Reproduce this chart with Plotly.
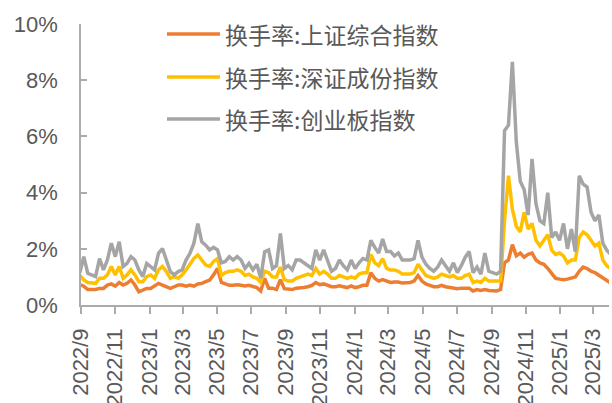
import pandas as pd
import plotly.graph_objects as go

# Weekly samples (Tuesdays) of turnover rate, %, from late Aug 2022 to early Apr 2025
dates = pd.date_range("2022-08-30", periods=136, freq="7D")

series_names = ["换手率:上证综合指数", "换手率:深证成份指数", "换手率:创业板指数"]
series_colors = ["#ED7D31", "#FFC000", "#A5A5A5"]

sse_composite = [
    0.72, 0.67, 0.55, 0.55, 0.55, 0.59, 0.59, 0.71, 0.75, 0.67,
    0.80, 0.71, 0.77, 0.89, 0.71, 0.47, 0.53, 0.59, 0.59, 0.67,
    0.77, 0.71, 0.65, 0.59, 0.65, 0.71, 0.71, 0.67, 0.71, 0.67,
    0.75, 0.77, 0.83, 0.89, 1.07, 1.30, 0.80, 0.75, 0.70, 0.70,
    0.72, 0.70, 0.68, 0.70, 0.65, 0.62, 0.50, 0.95, 0.60, 0.60,
    0.55, 0.90, 0.58, 0.55, 0.55, 0.60, 0.60, 0.62, 0.65, 0.70,
    0.80, 0.72, 0.75, 0.70, 0.65, 0.65, 0.68, 0.65, 0.62, 0.68,
    0.62, 0.65, 0.70, 0.70, 1.15, 0.95, 0.85, 0.90, 0.85, 0.80,
    0.82, 0.82, 0.78, 0.78, 0.80, 0.85, 1.05, 0.85, 0.75, 0.70,
    0.65, 0.65, 0.70, 0.65, 0.62, 0.62, 0.58, 0.60, 0.60, 0.60,
    0.50, 0.55, 0.52, 0.55, 0.52, 0.52, 0.50, 0.55, 1.50, 1.60,
    2.15, 1.75, 1.85, 1.70, 1.80, 1.85, 1.60, 1.50, 1.45, 1.30,
    1.10, 0.95, 0.92, 0.90, 0.92, 0.95, 1.00, 1.20, 1.35, 1.30,
    1.20, 1.15, 1.05, 0.95, 0.85, 0.78,
]

szse_component = [
    1.05, 0.89, 0.80, 0.77, 0.77, 0.95, 0.95, 1.07, 1.37, 1.07,
    1.37, 0.95, 1.07, 1.25, 1.07, 0.83, 0.83, 1.01, 1.07, 0.95,
    1.25, 1.37, 1.19, 0.95, 1.01, 0.95, 1.07, 1.25, 1.48, 1.66,
    1.78, 1.60, 1.42, 1.37, 1.55, 1.65, 1.05, 1.15, 1.20, 1.20,
    1.25, 1.20, 1.05, 1.10, 1.00, 0.95, 0.80, 1.20, 1.15, 1.00,
    1.00, 1.35, 0.90, 0.85, 0.85, 0.95, 1.00, 1.05, 1.10, 1.05,
    1.30, 1.10, 1.20, 1.10, 0.95, 0.95, 1.05, 1.00, 0.95, 1.00,
    0.95, 1.10, 1.15, 1.15, 1.80, 1.50, 1.40, 1.65, 1.30, 1.25,
    1.25, 1.20, 1.10, 1.10, 1.10, 1.15, 1.45, 1.25, 1.05, 1.00,
    0.95, 1.00, 1.10, 1.05, 1.00, 1.05, 0.95, 0.95, 1.05, 1.10,
    0.80, 0.85, 0.80, 0.95, 0.85, 0.85, 0.85, 0.85, 3.00, 4.60,
    3.40, 2.80, 2.60, 3.30, 2.70, 2.90, 2.30, 2.10, 2.30, 2.50,
    1.95, 1.80, 1.85, 1.75, 1.50, 1.60, 1.60, 2.40, 2.60, 2.50,
    2.30, 2.10, 2.20, 1.60, 1.40, 1.30,
]

chinext = [
    1.15, 1.72, 1.13, 1.07, 1.01, 1.65, 1.25, 1.60, 2.20, 1.72,
    2.25, 1.37, 1.48, 1.72, 1.60, 1.25, 1.01, 1.48, 1.37, 1.25,
    1.84, 2.01, 1.60, 1.19, 1.07, 1.19, 1.25, 1.60, 1.84, 2.20,
    2.90, 2.25, 2.13, 1.96, 2.05, 1.96, 1.50, 1.55, 1.72, 1.60,
    1.72, 1.60, 1.30, 1.48, 1.25, 1.45, 0.95, 1.90, 1.96, 1.30,
    1.40, 2.55, 1.30, 1.40, 1.25, 1.60, 1.60, 1.50, 1.40, 1.30,
    1.96, 1.60, 1.96, 1.60, 1.20, 1.30, 1.60, 1.40, 1.25, 1.60,
    1.30, 1.50, 1.65, 1.60, 2.30, 2.05, 1.85, 2.35, 1.90, 1.90,
    1.75, 1.85, 1.60, 1.60, 1.60, 1.65, 2.30, 1.70, 1.45, 1.30,
    1.20, 1.35, 1.60, 1.40, 1.20, 1.50, 1.15, 1.40, 1.70, 1.90,
    1.15, 1.35, 1.10, 1.85, 1.20, 1.15, 1.10, 1.20, 6.20, 6.40,
    8.65, 5.80, 4.40, 4.10, 3.20, 5.20, 3.60, 3.00, 2.90, 4.00,
    2.40, 2.60, 2.30, 2.90, 2.00, 2.70, 1.90, 4.60, 4.30, 4.20,
    3.30, 3.00, 3.20, 2.20, 1.95, 1.80,
]

y_ticks = [0, 2, 4, 6, 8, 10]
y_tick_text = [f"{v}%" for v in y_ticks]

W, H = 612, 403
M_L, M_R, M_T, M_B = 81, 3, 24, 98
AXIS_GREY = "#ABABAB"
TEXT_GREY = "#595959"
LATIN = "Liberation Sans, Arial, sans-serif"
CJK = "Noto Sans CJK SC, Liberation Sans, sans-serif"

fig = go.Figure()
for name, color, values in zip(series_names, series_colors,
                               [sse_composite, szse_component, chinext]):
    fig.add_trace(go.Scatter(
        x=dates, y=values, name=name, mode="lines",
        line=dict(color=color, width=3.5),
        showlegend=False,
    ))

# Legend drawn in pixel space: a short line swatch followed by the label
plot_w = W - M_L - M_R
plot_h = H - M_T - M_B


def px_x(p):
    return (p - M_L) / plot_w


def px_y(p):
    return (H - M_B - p) / plot_h


legend_rows = [34, 77, 119]
for name, color, row in zip(series_names, series_colors, legend_rows):
    fig.add_shape(type="line", xref="paper", yref="paper",
                  x0=px_x(167), x1=px_x(220), y0=px_y(row), y1=px_y(row),
                  line=dict(color=color, width=3.5))
    fig.add_annotation(xref="paper", yref="paper", x=px_x(223), y=px_y(row),
                       xanchor="left", yanchor="middle", showarrow=False,
                       text=name, font=dict(family=CJK, size=23, color=TEXT_GREY))

fig.update_layout(
    width=W, height=H,
    margin=dict(l=M_L, r=M_R, t=M_T, b=M_B, autoexpand=False),
    paper_bgcolor="white", plot_bgcolor="white",
    showlegend=False,
)

fig.update_xaxes(
    type="date", automargin=False,
    range=["2022-09-01", "2025-03-29"],
    tick0="2022-09-01", dtick="M2", tickformat="%Y/%-m",
    tickangle=-90, ticks="outside", ticklen=7, tickwidth=1.5,
    tickcolor=AXIS_GREY, showline=True, linecolor=AXIS_GREY, linewidth=1.5,
    showgrid=False, zeroline=False,
    tickfont=dict(family=LATIN, size=22, color=TEXT_GREY),
    ticklabelstandoff=6,
)

fig.update_yaxes(
    automargin=False,
    range=[0, 10], tickmode="array", tickvals=y_ticks, ticktext=y_tick_text,
    ticks="inside", ticklen=6, tickwidth=1.5, tickcolor=AXIS_GREY,
    showline=True, linecolor=AXIS_GREY, linewidth=1.5,
    showgrid=False, zeroline=False,
    tickfont=dict(family=LATIN, size=22, color=TEXT_GREY),
    ticklabelstandoff=17,
)

fig.write_html("out.html")
